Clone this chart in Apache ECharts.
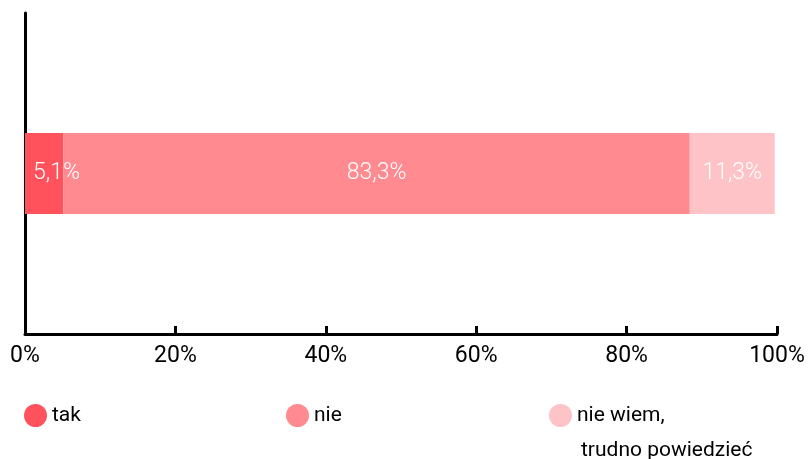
<!DOCTYPE html>
<html>
<head>
<meta charset="utf-8">
<script src="https://cdn.jsdelivr.net/npm/echarts@6/dist/echarts.min.js"></script>
<style>
  html, body { margin: 0; padding: 0; background: #ffffff; }
  #chart { width: 809px; height: 459px; }
</style>
</head>
<body>
<div id="chart"></div>
<script>
// Survey answers, share of respondents (%)
const categories = [''];
const seriesNames = ['tak', 'nie', 'nie wiem,\ntrudno powiedzieć'];
const takValues = [5.1];
const nieValues = [83.3];
const nieWiemValues = [11.3];
const tickLabels = ['0%', '20%', '40%', '60%', '80%', '100%'];

const colors = ['#ff525c', '#ff8a8f', '#fdc3c6'];
const FONT = 'Roboto, "Liberation Sans", sans-serif';
const LEGEND_TOP = 404;
const LEGEND_ICON = 23;
const LEGEND_LINE = 33;
const LEGEND_LEFTS = [24, 286, 549];

const chart = echarts.init(document.getElementById('chart'), null, { renderer: 'canvas' });

function barSeries(name, values, color, labelPos) {
  return {
    name: name,
    type: 'bar',
    stack: 'total',
    data: values,
    barWidth: 81,
    itemStyle: { color: color },
    label: {
      show: true,
      position: labelPos,
      distance: 8,
      color: '#ffffff',
      fontFamily: FONT,
      fontWeight: 300,
      fontSize: 23,
      formatter: p => String(p.value).replace('.', ',') + '%'
    },
    emphasis: { disabled: true }
  };
}

// One legend block per answer, laid out in three equal columns. Each block
// shows the first line of the name; a wrapped name continues underneath.
const legends = seriesNames.map((name, i) => ({
  left: LEGEND_LEFTS[i],
  top: LEGEND_TOP,
  padding: 0,
  icon: 'circle',
  itemWidth: LEGEND_ICON,
  itemHeight: LEGEND_ICON,
  selectedMode: false,
  formatter: n => n.split('\n')[0],
  textStyle: { color: '#000', fontFamily: FONT, fontSize: 21 },
  data: [name]
}));

const wrapped = seriesNames[2].split('\n');

chart.setOption({
  animation: false,
  color: colors,
  grid: { left: 25, right: 32, top: 13, bottom: 125, containLabel: false },
  xAxis: {
    type: 'value',
    min: 0,
    max: 100,
    interval: 20,
    axisLine: { show: true, lineStyle: { color: '#000', width: 3 } },
    axisTick: { show: true, inside: true, length: 8, lineStyle: { color: '#000', width: 3 } },
    splitLine: { show: false },
    axisLabel: {
      margin: 11,
      color: '#000',
      fontFamily: FONT,
      fontSize: 23,
      formatter: v => tickLabels[Math.round(v / 20)]
    }
  },
  yAxis: {
    type: 'category',
    data: categories,
    axisLine: { show: true, lineStyle: { color: '#000', width: 3 } },
    axisTick: { show: false },
    axisLabel: { show: false }
  },
  legend: legends,
  graphic: [{
    type: 'text',
    left: LEGEND_LEFTS[2] + 32,
    top: LEGEND_TOP + LEGEND_ICON / 2 + LEGEND_LINE - 8,
    silent: true,
    style: {
      text: wrapped[1],
      fill: '#000',
      font: '21px ' + FONT
    }
  }],
  series: [
    barSeries(seriesNames[0], takValues, colors[0], 'insideLeft'),
    barSeries(seriesNames[1], nieValues, colors[1], 'inside'),
    barSeries(seriesNames[2], nieWiemValues, colors[2], 'inside')
  ]
});
</script>
</body>
</html>
